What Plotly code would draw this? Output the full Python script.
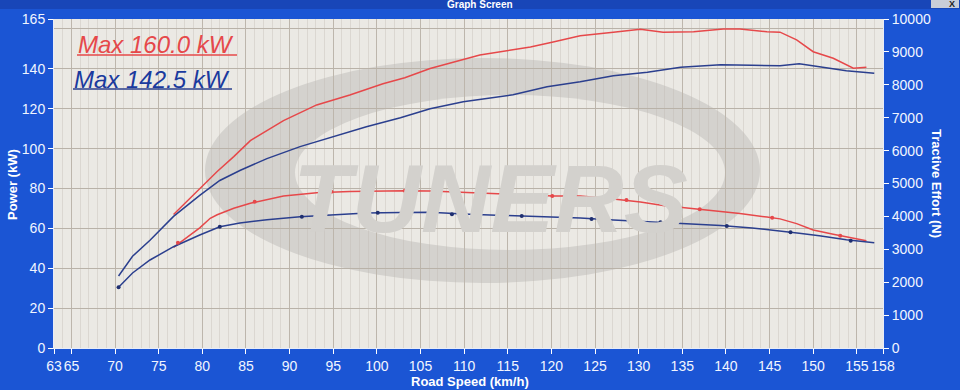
import plotly.graph_objects as go

# ---------------- data ----------------
red_speed = [76.7, 78.2, 79.7, 80.9, 81.7, 83.6, 85.5, 89.3, 93.1, 96.9, 100.7, 103.2,
             106.1, 111.8, 117.6, 120.2, 123.3, 127.1, 129.4, 130.2, 132.8, 136.3, 139.7,
             141.6, 144.7, 146.2, 148.1, 150.0, 152.3, 154.6, 156.1]
red_power = [67.0, 73.5, 80.0, 85.0, 88.5, 96.0, 104.0, 114.0, 121.9, 126.9, 132.5, 135.5,
             140.2, 146.9, 151.0, 153.5, 156.6, 158.3, 159.5, 159.8, 158.3, 158.6, 160.0,
             160.0, 158.6, 158.4, 154.5, 148.6, 145.3, 140.3, 140.8]
red_te = [3061, 3365, 3650, 3942, 4050, 4246, 4400, 4620, 4720, 4760, 4775, 4781,
          4770, 4720, 4650, 4620, 4620, 4530, 4470, 4440, 4330, 4235, 4140,
          4085, 3980, 3925, 3780, 3587, 3460, 3330, 3261]

blue_speed = [70.4, 72.0, 74.0, 76.7, 79.7, 82.0, 84.3, 87.4, 91.2, 95.0, 98.8, 102.7,
              106.1, 109.9, 115.6, 119.5, 123.3, 127.1, 131.0, 134.8, 139.4, 143.0,
              146.2, 148.4, 150.7, 153.8, 157.0]
blue_power = [36.1, 46.0, 54.0, 66.0, 76.5, 84.0, 89.0, 95.0, 101.0, 106.0, 111.0, 115.5,
              120.0, 123.5, 127.0, 131.0, 133.5, 136.5, 138.3, 140.8, 142.0, 141.8,
              141.6, 142.5, 141.0, 139.0, 137.8]
blue_te = [1845, 2280, 2675, 3079, 3435, 3687, 3800, 3900, 3991, 4050, 4100, 4120,
           4124, 4070, 4020, 3990, 3950, 3890, 3840, 3790, 3720, 3650,
           3560, 3490, 3410, 3290, 3200]

red_marker_speed = [77.2, 86.0, 94.8, 103.2, 111.7, 120.1, 128.6, 137.0, 145.3, 153.1]
red_marker_te = [3200, 4447, 4751, 4781, 4720, 4620, 4498, 4215, 3960, 3414]
blue_marker_speed = [70.4, 82.0, 91.4, 100.1, 108.6, 116.6, 124.6, 132.5, 140.1, 147.4, 154.3]
blue_marker_te = [1845, 3687, 3991, 4113, 4064, 4012, 3921, 3820, 3708, 3516, 3261]

x_ticks = [63, 65, 70, 75, 80, 85, 90, 95, 100, 105, 110, 115, 120, 125, 130,
           135, 140, 145, 150, 155, 158]
y_ticks = [0, 20, 40, 60, 80, 100, 120, 140, 165]
y2_ticks = [0, 1000, 2000, 3000, 4000, 5000, 6000, 7000, 8000, 9000, 10000]

red_label = "Max 160.0 kW"
blue_label = "Max 142.5 kW"

# ---------------- styling ----------------
RED = "#e6484a"
BLUE = "#2b3f8e"
PLOT_BG = "#ebe9e4"
PAPER = "#1b55d4"
FONT = "Liberation Sans, Arial, sans-serif"

W, H = 960, 390
L, R, T, B = 54, 883, 19, 348


def px(x):
    return (x - L) / (R - L)


def py(y):
    return (B - y) / (B - T)


fig = go.Figure()

fig.add_trace(go.Scatter(x=red_speed, y=red_power, mode="lines",
                         line=dict(color=RED, width=1.5), hoverinfo="skip"))
fig.add_trace(go.Scatter(x=blue_speed, y=blue_power, mode="lines",
                         line=dict(color=BLUE, width=1.5), hoverinfo="skip"))
fig.add_trace(go.Scatter(x=red_speed, y=red_te, mode="lines", yaxis="y2",
                         line=dict(color=RED, width=1.5), hoverinfo="skip"))
fig.add_trace(go.Scatter(x=blue_speed, y=blue_te, mode="lines", yaxis="y2",
                         line=dict(color=BLUE, width=1.5), hoverinfo="skip"))
fig.add_trace(go.Scatter(x=red_marker_speed, y=red_marker_te, mode="markers", yaxis="y2",
                         marker=dict(color=RED, size=4), hoverinfo="skip"))
fig.add_trace(go.Scatter(x=blue_marker_speed, y=blue_marker_te, mode="markers", yaxis="y2",
                         marker=dict(color="#1f2f70", size=4), hoverinfo="skip"))

shapes = [
    # title bar
    dict(type="rect", xref="paper", yref="paper", x0=px(0), x1=px(W), y0=py(9), y1=py(0),
         fillcolor="#1846b8", line=dict(width=0), layer="below"),
    # window buttons
    dict(type="rect", xref="paper", yref="paper", x0=px(931), x1=px(959), y0=py(8), y1=py(0),
         fillcolor="#c9cdd8", line=dict(width=0)),
    # watermark ring
    dict(type="circle", xref="paper", yref="paper", x0=px(205), x1=px(760), y0=py(283), y1=py(58),
         fillcolor="#d4d2ce", line=dict(width=0), layer="below"),
    dict(type="circle", xref="paper", yref="paper", x0=px(295), x1=px(725), y0=py(250), y1=py(95),
         fillcolor=PLOT_BG, line=dict(width=0), layer="below"),
    # underlines of the max labels
    dict(type="line", xref="paper", yref="paper", x0=px(77), x1=px(237), y0=py(55), y1=py(55),
         line=dict(color=RED, width=1.5)),
    dict(type="line", xref="paper", yref="paper", x0=px(73), x1=px(232), y0=py(89), y1=py(89),
         line=dict(color=BLUE, width=1.5)),
]

annotations = [
    dict(text="TUNERS", xref="paper", yref="paper", x=px(490), y=py(198), showarrow=False,
         xanchor="center", yanchor="middle",
         font=dict(family=FONT, size=96, color="#d3d1cd", weight="bold", style="italic")),
    dict(text=red_label, xref="paper", yref="paper", x=px(76), y=py(45), xanchor="left",
         yanchor="middle", showarrow=False,
         font=dict(family=FONT, size=24, color=RED, style="italic")),
    dict(text=blue_label, xref="paper", yref="paper", x=px(72), y=py(79), xanchor="left",
         yanchor="middle", showarrow=False,
         font=dict(family=FONT, size=24, color="#1a3a9e", style="italic")),
    dict(text="Power (kW)", xref="paper", yref="paper", x=px(12), y=py(185), textangle=-90,
         xanchor="center", yanchor="middle", showarrow=False,
         font=dict(family=FONT, size=13, color="white", weight="bold")),
    dict(text="Tractive Effort (N)", xref="paper", yref="paper", x=px(937), y=py(183),
         xanchor="center", yanchor="middle", textangle=90, showarrow=False,
         font=dict(family=FONT, size=13, color="white", weight="bold")),
    dict(text="Road Speed (km/h)", xref="paper", yref="paper", x=px(470), y=py(381),
         xanchor="center", yanchor="middle", showarrow=False,
         font=dict(family=FONT, size=13, color="white", weight="bold")),
    dict(text="Graph Screen", xref="paper", yref="paper", x=px(480), y=py(4),
         xanchor="center", yanchor="middle", showarrow=False,
         font=dict(family=FONT, size=10, color="white", weight="bold")),
    dict(text="X", xref="paper", yref="paper", x=px(952), y=py(4),
         xanchor="center", yanchor="middle", showarrow=False,
         font=dict(family=FONT, size=9, color="#222222", weight="bold")),
]

tick_font = dict(family=FONT, size=14, color="#f2f5ff")

fig.update_layout(
    width=W, height=H,
    margin=dict(l=L, r=W - R, t=T, b=H - B, pad=0),
    paper_bgcolor=PAPER,
    plot_bgcolor=PLOT_BG,
    showlegend=False,
    shapes=shapes,
    annotations=annotations,
    xaxis=dict(
        range=[63, 158], tickmode="array", tickvals=x_ticks, ticktext=[str(v) for v in x_ticks],
        tickangle=0,
        showgrid=True, gridcolor="#bdb6ac", gridwidth=1,
        minor=dict(tickmode="linear", tick0=0, dtick=1, showgrid=True,
                   gridcolor="rgba(190,184,176,0.35)", gridwidth=1, ticks=""),
        ticks="outside", ticklen=5, tickcolor="white", tickwidth=1,
        showline=True, linecolor="#e8ecf8", linewidth=1,
        tickfont=tick_font, zeroline=False, fixedrange=True,
    ),
    yaxis=dict(
        range=[0, 165], tickmode="array", tickvals=y_ticks, ticktext=[str(v) for v in y_ticks],
        showgrid=True, gridcolor="#b9b2a8", gridwidth=1,
        minor=dict(tickmode="array", tickvals=[160], showgrid=True,
                   gridcolor="#b9b2a8", gridwidth=1, ticks=""),
        ticks="outside", ticklen=5, tickcolor="white", tickwidth=1,
        showline=True, linecolor="#e8ecf8", linewidth=1,
        tickfont=tick_font, zeroline=False, fixedrange=True,
    ),
    yaxis2=dict(
        range=[0, 10000], overlaying="y", side="right", tickmode="array", tickvals=y2_ticks,
        ticktext=[str(v) for v in y2_ticks], showgrid=False,
        ticks="outside", ticklen=5, tickcolor="white", tickwidth=1,
        showline=True, linecolor="#e8ecf8", linewidth=1,
        tickfont=tick_font, zeroline=False, fixedrange=True,
    ),
)

fig.write_html("out.html")
